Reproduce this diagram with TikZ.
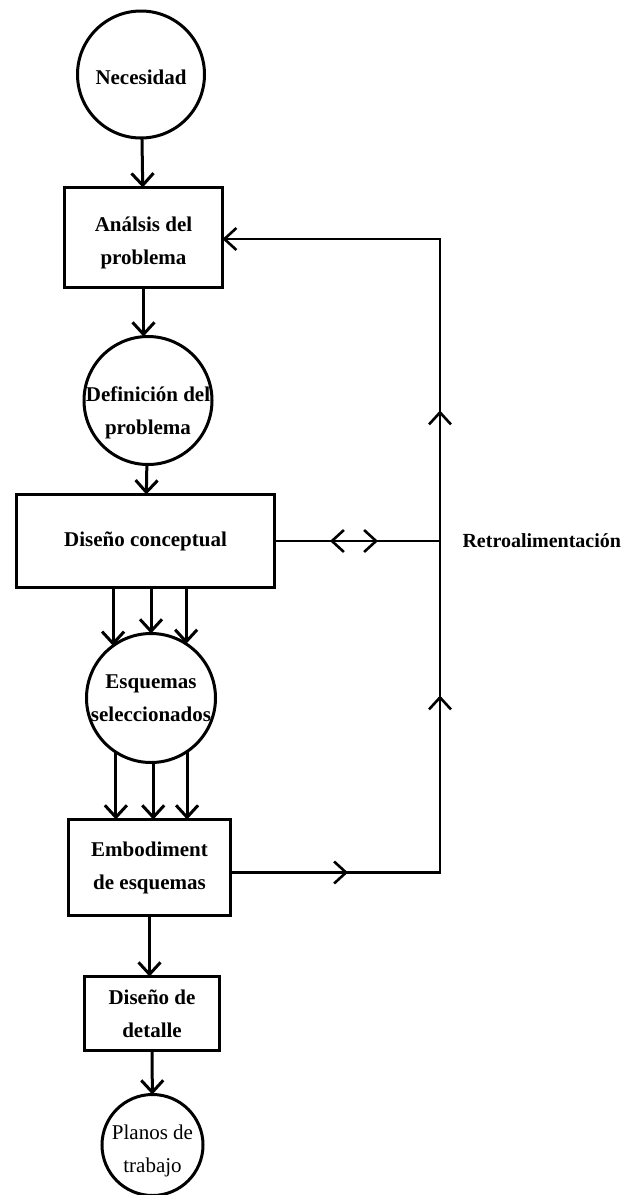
\documentclass[tikz,border=0pt]{standalone}
\usepackage{fontspec}
\setmainfont{Liberation Serif}
\usetikzlibrary{positioning,arrows.meta,decorations.markings}

\begin{document}
\begin{tikzpicture}[
	>={Straight Barb[length=12pt,width=22pt]},
	caja/.style={draw, line width=3pt, align=center, inner sep=0pt, outer sep=0pt, font=\bfseries\fontsize{21}{33}\selectfont},
	circulo/.style={caja, circle, inner sep=-14pt},
	rectangulo/.style={caja, rectangle},
	flecha/.style={line width=3pt, ->},
	linea/.style={line width=2.6pt}
	]
	\useasboundingbox (0,0) rectangle (625pt,-1195pt);

	\node [circulo, minimum size=127pt, text height=21pt] (a) at (141pt,-74.5pt) {Necesidad};
	\node [rectangulo, minimum width=158pt, minimum height=100pt, below=49.5pt of a, xshift=2.5pt, text height=58pt] (b) {Análsis del\\problema};
	\node [circulo, minimum size=128pt, below=49pt of b, xshift=4.5pt, text height=72pt] (c) {Definición del\\problema};
	\node [rectangulo, minimum width=258pt, minimum height=93pt, below=30pt of c, xshift=-2.5pt] (d) {Diseño conceptual};
	\node [circulo, minimum size=129pt, below=46pt of d, xshift=5.5pt] (e) {Esquemas\\seleccionados};
	\node [rectangulo, minimum width=162pt, minimum height=96pt, below=57pt of e, xshift=-1.5pt] (f) {Embodiment\\de esquemas};
	\node [rectangulo, minimum width=135pt, minimum height=74pt, below=61pt of f, xshift=2.5pt] (g) {Diseño de\\detalle};
	\node [circulo, minimum size=101pt, below=44pt of g, xshift=0.5pt, text height=60pt, font=\fontsize{21}{33}\selectfont] (h) {Planos de\\trabajo};
	\coordinate [right=165.5pt of d.east] (r);
	\node [right=19pt of r, font=\bfseries\fontsize{20}{24}\selectfont] (t) {Retroalimentación};

	\draw [flecha] (a) -- (b);
	\draw [flecha] (b.south) -- (b.south |- c.north);
	\draw [flecha] (c) -- (d);
	\foreach \i in {126,90,57}
		\draw [flecha] (e.\i |- d.south) -- (e.\i);
	\foreach \i in {237,272,304}
		\draw [flecha] (e.\i) -- (e.\i |- f.north);
	\draw [flecha] (f.south) -- (f.south |- g.north);
	\draw [flecha] (g) -- (h);

	\draw [linea, postaction={decorate}, decoration={markings,
		mark=at position 55.5pt with {\arrowreversed{>}},
		mark=at position 103.5pt with {\arrow{>}}}] (d.east) -- (r);
	\draw [linea, ->, postaction={decorate}, decoration={markings,
		mark=at position 117.5pt with {\arrow{>}},
		mark=at position 386.5pt with {\arrow{>}},
		mark=at position 671.5pt with {\arrow{>}}}]
		([yshift=-5pt]f.east) -- ([yshift=-5pt]f.east -| r) -- ([yshift=-1.5pt]b.east -| r) -- ([yshift=-1.5pt]b.east);

\end{tikzpicture}
\end{document}
